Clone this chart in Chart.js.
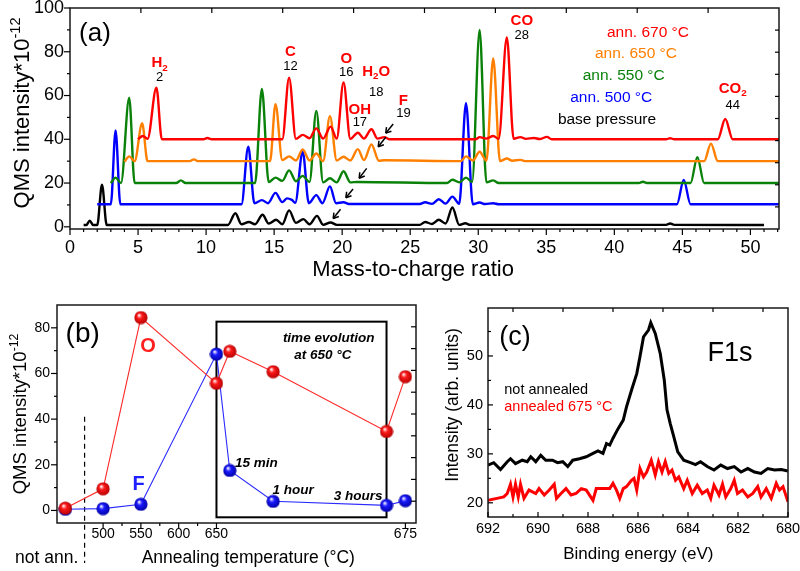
<!DOCTYPE html>
<html><head><meta charset="utf-8">
<script src="https://cdn.jsdelivr.net/npm/chart.js@4.4.1/dist/chart.umd.min.js"></script>
<style>
html,body{margin:0;padding:0;background:#fff;width:800px;height:571px;overflow:hidden}
canvas{position:absolute}
</style></head><body>
<canvas id="ca" width="800" height="290" style="left:0;top:0"></canvas>
<canvas id="cb" width="440" height="281" style="left:0;top:290px"></canvas>
<canvas id="cc" width="360" height="281" style="left:440px;top:290px"></canvas>
<script>
// ---------------- DATA ----------------
// Panel (a): QMS spectra, [mass-to-charge (shifted), intensity]
const basePressure = [[1.0,0.8],[1.2,0.8],[1.45,2.8],[1.7,0.8],[2.0,0.8],[2.35,19.2],[2.7,0.8],[11.6,0.8],[12.15,6.2],[12.6,1.2],[13.15,2.2],[13.6,1.2],[14.15,5.5],[14.6,1.5],[15.15,3.2],[15.6,1.2],[16.1,7.5],[16.6,1.8],[17.15,3.5],[17.6,1.2],[18.15,5],[18.6,0.9],[19.15,2],[19.6,0.9],[25.7,0.9],[26.1,2.2],[26.6,1.3],[27.1,3.2],[27.6,1.5],[28.1,8.8],[28.6,0.9],[29.05,1.6],[29.4,0.9],[43.8,0.9],[44.1,1.5],[44.4,0.9],[51.0,0.8]];
const ann500 = [[2.0,10.3],[3.0,10.3],[3.35,44],[3.7,10.3],[12.6,10.3],[13.1,36.6],[13.55,10.8],[14.1,12.2],[14.55,10.8],[15.1,15.5],[15.6,11.3],[15.95,13],[16.3,12.3],[16.55,11],[17.1,34.3],[17.55,10.8],[18.1,14.5],[18.55,10.8],[19.1,18.5],[19.55,10.8],[20.1,11.2],[20.5,10.4],[25.7,10.4],[26.1,11.2],[26.6,10.5],[27.1,12.6],[27.6,10.6],[28.1,13.8],[28.6,10.5],[29.1,56.5],[29.6,10.3],[30.1,11.1],[30.5,10.4],[31.1,10.8],[31.5,10.3],[44.6,10.3],[45.1,21.4],[45.6,10.3],[52.1,10.3]];
const ann550 = [[3.0,19.9],[3.35,22.5],[3.75,20],[4.35,59],[4.75,20],[7.8,20],[8.15,21.2],[8.5,20],[13.6,20],[14.1,63],[14.6,20.5],[15.1,22.5],[15.6,21],[16.1,25.8],[16.6,20.8],[17.1,23.3],[17.6,20.5],[18.1,53],[18.6,20.3],[19.1,22.2],[19.6,20.3],[20.1,25.4],[20.6,20.3],[21.1,20.5],[27.7,20],[28.1,21.5],[28.6,20.3],[29.1,22.5],[29.55,20.5],[30.1,90],[30.6,20.3],[31.1,21.2],[31.5,20],[41.8,20],[42.1,20.6],[42.4,20],[45.6,20],[46.1,31.8],[46.6,20],[52.1,20]];
const ann650 = [[4.0,29.8],[4.35,32.2],[4.75,30],[5.3,47.3],[5.7,30],[8.8,30],[9.1,30.8],[9.4,30],[14.7,30],[15.1,56],[15.6,30.5],[16.1,32.2],[16.6,30.3],[17.1,35.3],[17.6,30.3],[18.1,33.5],[18.6,30],[19.1,50.6],[19.6,30.3],[20.1,32],[20.6,30.3],[21.15,35.5],[21.6,30.5],[22.15,37.6],[22.7,30.2],[23.1,30.4],[28.7,30],[29.1,32.2],[29.6,30.3],[30.1,34.3],[30.6,30.2],[31.1,77],[31.6,30],[32.1,31.2],[32.5,30.2],[33.1,30.6],[33.5,30],[46.6,30],[47.1,38],[47.6,30],[52.1,30]];
const ann670 = [[5.0,40],[5.35,41.5],[5.7,40.2],[6.35,63.6],[6.75,40],[9.8,40],[10.1,40.6],[10.4,40],[15.6,40],[16.1,68.2],[16.6,40.2],[17.1,42],[17.6,40.5],[18.1,45],[18.6,40.3],[19.15,45.8],[19.6,40.3],[20.1,66],[20.6,40.2],[21.15,43],[21.6,40.3],[22.15,44.6],[22.6,40.3],[23.1,41],[23.5,40],[29.8,40],[30.1,41],[30.6,40.3],[31.1,41.5],[31.5,40.2],[32.1,86.5],[32.6,40.2],[33.1,41],[33.5,40.2],[34.1,40.6],[34.5,40.1],[35.05,41.1],[35.4,40],[43.8,40],[44.1,40.5],[44.4,40],[47.6,40],[48.15,49.3],[48.7,40],[52.1,40]];
const aXTicks = [0,5,10,15,20,25,30,35,40,45,50];
const aYTicks = [0,20,40,60,80,100];

// Panel (b): annealing series (450 = not annealed; 667.6/725/875 = 15 min / 1 h / 3 h at 650 °C; 900 = 675 °C)
const annealX = [450, 500, 550, 650, 667.6, 725, 875, 900];
const oxygenQMS = [1.0, 9.5, 84.5, 55.7, 69.7, 60.8, 34.6, 58.6];
const fluorQMS = [0.5, 0.8, 2.7, 68.5, 17.5, 4.0, 2.2, 4.3];
const bXTicks = [500, 550, 600, 650, 900];
const bXLabels = ['500', '550', '600', '650', '675'];
const bYTicks = [0, 20, 40, 60, 80];

// Panel (c): XPS F1s, [binding energy, intensity]
const notAnnealed = [[692.00,27.7],[691.77,28.2],[691.50,26.8],[691.23,28.4],[691.10,29.0],[690.90,28.0],[690.63,28.7],[690.43,28.4],[690.29,29.4],[690.09,28.4],[689.89,29.7],[689.69,28.7],[689.42,28.7],[689.22,28.2],[689.01,28.4],[688.81,27.4],[688.61,28.7],[688.34,29.0],[688.07,29.4],[687.80,30.1],[687.60,30.6],[687.40,30.1],[687.26,32.1],[687.13,31.8],[687.00,33.2],[686.79,35.2],[686.59,36.9],[686.46,39.6],[686.26,43.0],[686.05,46.4],[685.92,49.9],[685.78,53.9],[685.58,55.3],[685.49,56.8],[685.31,54.6],[685.11,50.5],[684.95,45.1],[684.84,39.0],[684.71,36.2],[684.57,33.5],[684.41,30.4],[684.17,28.7],[683.90,28.2],[683.70,27.8],[683.50,28.4],[683.23,27.4],[682.96,26.7],[682.69,27.7],[682.42,27.0],[682.15,27.4],[681.88,26.3],[681.61,27.0],[681.34,26.3],[681.08,26.0],[680.81,27.0],[680.54,26.7],[680.27,26.8],[680.00,26.5]];
const annealed675 = [[692.00,20.5],[691.64,20.9],[691.37,21.2],[691.23,21.9],[691.10,23.8],[691.00,21.2],[690.90,23.8],[690.79,21.2],[690.70,23.8],[690.56,20.9],[690.36,22.6],[690.09,21.9],[689.96,22.9],[689.75,21.6],[689.55,22.6],[689.35,23.8],[689.26,20.9],[689.08,21.9],[688.88,22.9],[688.68,21.6],[688.48,21.9],[688.27,22.9],[688.07,22.6],[687.80,20.5],[687.67,22.9],[687.40,22.9],[687.13,22.9],[687.00,24.0],[686.86,22.6],[686.73,20.9],[686.59,22.9],[686.46,23.3],[686.26,24.6],[686.16,25.0],[686.05,22.6],[685.92,27.0],[685.78,25.3],[685.65,26.3],[685.47,28.7],[685.31,25.7],[685.18,28.4],[685.04,26.3],[684.91,28.4],[684.77,26.0],[684.64,26.7],[684.50,24.6],[684.37,25.3],[684.17,22.9],[684.03,24.6],[683.83,21.9],[683.63,23.6],[683.43,21.9],[683.23,22.6],[683.09,20.9],[682.96,23.6],[682.76,21.6],[682.62,23.8],[682.49,21.2],[682.29,22.9],[682.15,24.6],[682.02,21.9],[681.82,22.6],[681.61,21.2],[681.41,21.9],[681.21,23.3],[681.08,21.2],[680.87,22.9],[680.67,20.9],[680.47,24.0],[680.34,22.6],[680.20,23.3],[680.00,20.2]];
const cXTicks = [692, 690, 688, 686, 684, 682, 680];
const cYTicks = [20, 30, 40, 50];

// ---------------- HELPERS ----------------
const FONT = '"Liberation Sans", Arial, sans-serif';
Chart.defaults.font.family = FONT;
Chart.defaults.color = '#000';
const pts = a => a.map(([x, y]) => ({x, y}));

function drawRich(ctx, parts, x, y, size, opt) {
  opt = opt || {};
  const weight = opt.weight || 'normal', style = opt.style || 'normal';
  const align = opt.align || 'center';
  ctx.save();
  ctx.translate(x, y);
  if (opt.rot) ctx.rotate(opt.rot);
  ctx.fillStyle = opt.color || '#000';
  ctx.textBaseline = 'alphabetic';
  ctx.textAlign = 'left';
  const fnt = s => `${style} ${weight} ${s}px ${FONT}`;
  const sz = k => (k === 'n' ? size : size * 0.66);
  const widths = parts.map(([t, k]) => { ctx.font = fnt(sz(k || 'n')); return ctx.measureText(t).width; });
  const total = widths.reduce((a, b) => a + b, 0);
  let cx = align === 'left' ? 0 : align === 'right' ? -total : -total / 2;
  const base = size * 0.36;
  parts.forEach(([t, k], i) => {
    k = k || 'n';
    ctx.font = fnt(sz(k));
    const dy = k === 'sub' ? size * 0.22 : k === 'sup' ? -size * 0.42 : 0;
    ctx.fillText(t, cx, base + dy);
    cx += widths[i];
  });
  ctx.restore();
}

function line(ctx, x0, y0, x1, y1) { ctx.beginPath(); ctx.moveTo(x0, y0); ctx.lineTo(x1, y1); ctx.stroke(); }

// ticks: side 'bottom' | 'top' | 'left' | 'right'; dir +1 outward, -1 inward; pixel positions list
function ticksAt(chart, side, pixels, len, dir) {
  const ctx = chart.ctx, a = chart.chartArea;
  ctx.save(); ctx.strokeStyle = '#000'; ctx.lineWidth = 1.2;
  pixels.forEach(p => {
    if (side === 'bottom') line(ctx, p, a.bottom, p, a.bottom + dir * len);
    if (side === 'top') line(ctx, p, a.top, p, a.top - dir * len);
    if (side === 'left') line(ctx, a.left, p, a.left - dir * len, p);
    if (side === 'right') line(ctx, a.right, p, a.right + dir * len, p);
  });
  ctx.restore();
}
function frame(chart) {
  const ctx = chart.ctx, a = chart.chartArea;
  ctx.save(); ctx.strokeStyle = '#1a1a1a'; ctx.lineWidth = 1.5;
  ctx.strokeRect(a.left, a.top, a.right - a.left, a.bottom - a.top);
  ctx.restore();
}
function divisions(from, to, n) { const r = []; for (let i = 1; i < n; i++) r.push(from + (to - from) * i / n); return r; }
function range(a, b, s, skip) { const r = []; for (let v = a; v <= b + 1e-9; v += s) if (!skip || !skip(v)) r.push(v); return r; }

function axis(min, max, tickVals, labels, size, fixed, horizontal, pad, reverse) {
  return {
    type: 'linear', min, max, reverse: !!reverse,
    afterBuildTicks: s => { s.ticks = tickVals.map(v => ({value: v})); },
    afterFit: s => {
      if (horizontal) s.height = fixed; else s.width = fixed;
      s.paddingLeft = s.paddingRight = s.paddingTop = s.paddingBottom = 0;
    },
    ticks: {autoSkip: false, maxRotation: 0, minRotation: 0, font: {size}, color: '#000', padding: pad,
      callback: (v, i) => labels ? labels[i] : String(v)},
    grid: {display: true, drawOnChartArea: false, drawTicks: false, color: 'rgba(0,0,0,0)'},
    border: {display: false}
  };
}
function baseOpts(padding) {
  return {
    responsive: false, animation: false, devicePixelRatio: 1,
    layout: {padding},
    plugins: {legend: {display: false}, tooltip: {enabled: false}},
    elements: {point: {radius: 0}}
  };
}

// ---------------- PANEL (a) ----------------
const aSeries = [
  {label: 'ann. 670 °C', data: ann670, color: '#ff0000'},
  {label: 'ann. 650 °C', data: ann650, color: '#ff8000'},
  {label: 'ann. 550 °C', data: ann550, color: '#0a820a'},
  {label: 'ann. 500 °C', data: ann500, color: '#0000ff'},
  {label: 'base pressure', data: basePressure, color: '#000000'}
];
const optA = baseOpts({left: 0, right: 21, top: 8, bottom: 0});
optA.scales = {
  x: axis(0, 52.1, aXTicks, null, 18, 61, true, 8),
  y: axis(-1, 100, aYTicks, null, 18, 70, false, 6)
};
new Chart(document.getElementById('ca'), {
  type: 'line',
  data: {datasets: aSeries.map(s => ({label: s.label, data: pts(s.data), borderColor: s.color,
    borderWidth: 2.4, pointRadius: 0, cubicInterpolationMode: 'monotone', fill: false}))},
  options: optA,
  plugins: [{id: 'decoA', afterDraw(chart) {
    const ctx = chart.ctx, a = chart.chartArea, X = chart.scales.x, Y = chart.scales.y;
    frame(chart);
    ticksAt(chart, 'bottom', aXTicks.map(v => X.getPixelForValue(v)), 6, 1);
    ticksAt(chart, 'bottom', range(1, 52, 1, v => v % 5 === 0).map(v => X.getPixelForValue(v)), 3, 1);
    ticksAt(chart, 'left', aYTicks.map(v => Y.getPixelForValue(v)), 6, 1);
    ticksAt(chart, 'left', [10, 30, 50, 70, 90].map(v => Y.getPixelForValue(v)), 3, 1);
    ticksAt(chart, 'top', divisions(a.left, a.right, 10), 5, -1);
    ticksAt(chart, 'right', divisions(a.bottom, a.top, 10), 4, -1);
    const P = (x, y) => [X.getPixelForValue(x), Y.getPixelForValue(y)];
    const red = '#ff0000';
    const species = [
      [[['H', 'n'], ['2', 'sub']], '2', 6.59, 75.4, 69.0],
      [[['C', 'n']], '12', 16.2, 80.4, 74.0],
      [[['O', 'n']], '16', 20.3, 77.5, 71.0],
      [[['H', 'n'], ['2', 'sub'], ['O', 'n']], '18', 22.5, 71.3, 61.7],
      [[['OH', 'n']], '17', 21.3, 54.1, 48.4],
      [[['F', 'n']], '19', 24.5, 58.0, 52.4],
      [[['CO', 'n']], '28', 33.2, 94.6, 87.8],
      [[['CO', 'n'], ['2', 'sub']], '44', 48.7, 63.8, 56.0]
    ];
    species.forEach(([parts, num, x, y1, y2]) => {
      const [px, py] = P(x, y1);
      drawRich(ctx, parts, px, py, 15, {weight: 'bold', color: red});
      const [qx, qy] = P(x, y2);
      drawRich(ctx, [[num, 'n']], qx, qy, 13, {color: '#000'});
    });
    const legendPos = [[42.47, 89.3], [41.59, 79.7], [40.69, 69.5], [39.77, 59.5], [39.46, 49.6]];
    aSeries.forEach((s, i) => {
      const [px, py] = P(legendPos[i][0], legendPos[i][1]);
      drawRich(ctx, [[s.label, 'n']], px, py, 15.5, {color: s.color});
    });
    drawRich(ctx, [['(a)', 'n']], 95, 31.5, 26, {color: '#000'});
    // arrows marking F (mass 19)
    const arrows = [[23.75, 47.0, 23.2, 42.8], [23.2, 40.9, 22.65, 36.6], [21.8, 26.7, 21.25, 22.2], [20.8, 17.3, 20.27, 13.3], [19.88, 8.0, 19.34, 3.8]];
    ctx.save(); ctx.strokeStyle = '#000'; ctx.lineWidth = 1.5;
    arrows.forEach(([x0, y0, x1, y1]) => {
      const [ax, ay] = P(x0, y0), [bx, by] = P(x1, y1);
      line(ctx, ax, ay, bx, by);
      const ang = Math.atan2(by - ay, bx - ax), L = 6;
      line(ctx, bx, by, bx - L * Math.cos(ang - 0.55), by - L * Math.sin(ang - 0.55));
      line(ctx, bx, by, bx - L * Math.cos(ang + 0.55), by - L * Math.sin(ang + 0.55));
    });
    ctx.restore();
    // axis titles
    drawRich(ctx, [['QMS intensity*10', 'n'], ['-12', 'sup']], 21, 113, 22, {rot: -Math.PI / 2});
    drawRich(ctx, [['Mass-to-charge ratio', 'n']], 413, 268, 22);
  }}]
});

// ---------------- PANEL (b) ----------------
function sphere(color, dark) {
  const c = document.createElement('canvas'); c.width = c.height = 14;
  const g = c.getContext('2d');
  const gr = g.createRadialGradient(5, 4.5, 0.3, 7, 7, 7);
  gr.addColorStop(0, '#ffffff'); gr.addColorStop(0.35, color); gr.addColorStop(1, dark);
  g.fillStyle = gr; g.beginPath(); g.arc(7, 7, 6.6, 0, Math.PI * 2); g.fill();
  return c;
}
const optB = baseOpts({left: 0, right: 24, top: 15, bottom: 0});
optB.scales = {
  x: axis(439, 914, bXTicks, bXLabels, 14, 48, true, 3),
  y: axis(-5.5, 90, bYTicks, null, 14, 57, false, 7)
};
new Chart(document.getElementById('cb'), {
  type: 'line',
  data: {datasets: [
    {label: 'O', data: annealX.map((x, i) => ({x, y: oxygenQMS[i]})), borderColor: '#ff2a2a', borderWidth: 1.1,
      pointStyle: sphere('#ff1a1a', '#b00000'), pointRadius: 7, tension: 0},
    {label: 'F', data: annealX.map((x, i) => ({x, y: fluorQMS[i]})), borderColor: '#2a2aff', borderWidth: 1.1,
      pointStyle: sphere('#1a1aff', '#0000a0'), pointRadius: 7, tension: 0}
  ]},
  options: Object.assign(optB, {clip: false}),
  plugins: [{id: 'decoB', beforeDatasetsDraw(chart) {
    const ctx = chart.ctx, X = chart.scales.x, Y = chart.scales.y;
    // time evolution box
    ctx.save(); ctx.strokeStyle = '#000'; ctx.lineWidth = 2;
    const x0 = X.getPixelForValue(650), x1 = X.getPixelForValue(875);
    const y0 = Y.getPixelForValue(82.7), y1 = Y.getPixelForValue(-3);
    ctx.strokeRect(x0, y0, x1 - x0, y1 - y0);
    // dashed separator
    ctx.lineWidth = 1.2; ctx.setLineDash([5, 4]);
    line(ctx, X.getPixelForValue(475.5), Y.getPixelForValue(41), X.getPixelForValue(475.5), 273);
    ctx.restore();
  }, afterDraw(chart) {
    const ctx = chart.ctx, a = chart.chartArea, X = chart.scales.x, Y = chart.scales.y;
    frame(chart);
    ticksAt(chart, 'bottom', bXTicks.map(v => X.getPixelForValue(v)), 5, 1);
    ticksAt(chart, 'bottom', [525, 575, 625].map(v => X.getPixelForValue(v)), 3, 1);
    ticksAt(chart, 'left', bYTicks.map(v => Y.getPixelForValue(v)), 6, 1);
    ticksAt(chart, 'left', [10, 30, 50, 70].map(v => Y.getPixelForValue(v)), 3, 1);
    ticksAt(chart, 'right', divisions(a.bottom, a.top, 10), 5, -1);
    const P = (x, y) => [X.getPixelForValue(x), Y.getPixelForValue(y)];
    let p;
    p = P(473, 78.3); drawRich(ctx, [['(b)', 'n']], p[0], p[1], 28);
    p = P(559.5, 72.4); drawRich(ctx, [['O', 'n']], p[0], p[1], 20, {weight: 'bold', color: '#ff2020'});
    p = P(547, 12.0); drawRich(ctx, [['F', 'n']], p[0], p[1], 20, {weight: 'bold', color: '#2020ff'});
    const bi = {weight: 'bold', style: 'italic'};
    p = P(798.4, 76.1); drawRich(ctx, [['time evolution', 'n']], p[0], p[1], 13.5, bi);
    p = P(790.7, 68.5); drawRich(ctx, [['at 650 °C', 'n']], p[0], p[1], 13.5, bi);
    p = P(702.8, 21.0); drawRich(ctx, [['15 min', 'n']], p[0], p[1], 13.5, bi);
    p = P(751.3, 9.4); drawRich(ctx, [['1 hour', 'n']], p[0], p[1], 13.5, bi);
    p = P(837.3, 6.9); drawRich(ctx, [['3 hours', 'n']], p[0], p[1], 13.5, bi);
    drawRich(ctx, [['QMS intensity*10', 'n'], ['-12', 'sup']], 19, 124, 18.5, {rot: -Math.PI / 2});
    drawRich(ctx, [['Annealing temperature (°C)', 'n']], 248.3, 266.5, 17.5);
    drawRich(ctx, [['not ann.', 'n']], 46.7, 266.5, 17.5);
  }}]
});

// ---------------- PANEL (c) ----------------
const optC = baseOpts({left: 0, right: 12, top: 18, bottom: 0});
optC.scales = {
  x: axis(680, 692, cXTicks, null, 14.5, 54, true, 3, true),
  y: axis(17.1, 59.8, cYTicks, null, 14.5, 48, false, 5)
};
new Chart(document.getElementById('cc'), {
  type: 'line',
  data: {datasets: [
    {label: 'not annealed', data: pts(notAnnealed), borderColor: '#000', borderWidth: 3, pointRadius: 0, tension: 0},
    {label: 'annealed 675 °C', data: pts(annealed675), borderColor: '#ff0000', borderWidth: 3, pointRadius: 0, tension: 0}
  ]},
  options: optC,
  plugins: [{id: 'decoC', afterDraw(chart) {
    const ctx = chart.ctx, X = chart.scales.x, Y = chart.scales.y;
    frame(chart);
    ticksAt(chart, 'bottom', cXTicks.map(v => X.getPixelForValue(v)), 5, -1);
    ticksAt(chart, 'bottom', [691, 689, 687, 685, 683, 681].map(v => X.getPixelForValue(v)), 3, -1);
    ticksAt(chart, 'top', [691, 689, 687, 685, 683, 681].map(v => X.getPixelForValue(v)), 4, -1);
    ticksAt(chart, 'left', cYTicks.map(v => Y.getPixelForValue(v)), 5, -1);
    ticksAt(chart, 'left', [25, 35, 45, 55].map(v => Y.getPixelForValue(v)), 3, -1);
    drawRich(ctx, [['(c)', 'n']], 75, 45, 27);
    drawRich(ctx, [['F1s', 'n']], 290, 61.7, 27);
    drawRich(ctx, [['not annealed', 'n']], 64.3, 98.3, 14.5, {align: 'left'});
    drawRich(ctx, [['annealed 675 °C', 'n']], 64.3, 116, 14.5, {align: 'left', color: '#ff0000'});
    drawRich(ctx, [['Intensity (arb. units)', 'n']], 11.7, 115, 17.5, {rot: -Math.PI / 2});
    drawRich(ctx, [['Binding energy (eV)', 'n']], 198.3, 263.3, 17);
  }}]
});
</script>
</body></html>
